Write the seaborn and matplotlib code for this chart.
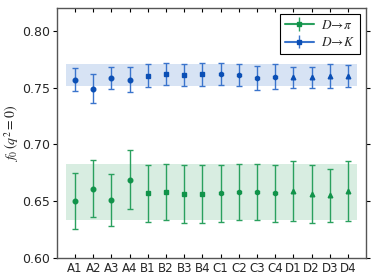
import matplotlib
matplotlib.use("Agg")
import matplotlib.pyplot as plt
import seaborn as sns
import numpy as np
import pandas as pd

ensembles = ["A1", "A2", "A3", "A4", "B1", "B2", "B3", "B4",
             "C1", "C2", "C3", "C4", "D1", "D2", "D3", "D4"]
markers = ["o", "o", "o", "o", "s", "s", "s", "s",
           "h", "h", "h", "h", "^", "^", "^", "^"]

pi_val = [0.650, 0.661, 0.651, 0.669, 0.657, 0.658, 0.656, 0.656,
          0.657, 0.658, 0.658, 0.657, 0.659, 0.656, 0.655, 0.659]
pi_err = [0.025, 0.025, 0.023, 0.026, 0.025, 0.025, 0.0255, 0.0255,
          0.025, 0.025, 0.025, 0.025, 0.0265, 0.0256, 0.0234, 0.0266]
k_val = [0.757, 0.749, 0.7585, 0.757, 0.7605, 0.762, 0.761, 0.7617,
         0.762, 0.761, 0.7584, 0.7596, 0.759, 0.759, 0.760, 0.760]
k_err = [0.010, 0.013, 0.0095, 0.011, 0.010, 0.010, 0.010, 0.010,
         0.010, 0.010, 0.0105, 0.011, 0.0095, 0.009, 0.0105, 0.0098]
pi_band = (0.633, 0.6825)
k_band = (0.751, 0.771)

df = pd.DataFrame({"ens": ensembles, "pi": pi_val, "pi_err": pi_err,
                   "k": k_val, "k_err": k_err, "m": markers})
df["x"] = np.arange(len(df))

sns.set_style("white")
plt.rcParams["mathtext.fontset"] = "stix"
plt.rcParams["font.family"] = ["DejaVu Sans"]

fig, ax = plt.subplots(figsize=(3.74, 2.8), dpi=100)
fig.subplots_adjust(left=0.152, right=0.979, top=0.971, bottom=0.079)

green = "#2aa05e"
green_m = "#11934a"
blue = "#3a74cc"
blue_m = "#0b4fb5"

ax.fill_between([-0.5, 15.5], pi_band[0], pi_band[1], color="#2aa05e", alpha=0.18, lw=0)
ax.fill_between([-0.5, 15.5], k_band[0], k_band[1], color="#3a74cc", alpha=0.2, lw=0)

for _, r in df.iterrows():
    ax.errorbar(r["x"], r["pi"], yerr=r["pi_err"], fmt=r["m"], color=green,
                mfc=green_m, mec=green_m, ms=3.3, capsize=2.2, elinewidth=1.0, capthick=1.0)
    ax.errorbar(r["x"], r["k"], yerr=r["k_err"], fmt=r["m"], color=blue,
                mfc=blue_m, mec=blue_m, ms=3.3, capsize=2.2, elinewidth=1.0, capthick=1.0)

# legend handles
h1 = ax.errorbar([], [], yerr=[], fmt="s-", color=green, mfc=green_m, mec=green_m,
                 ms=2.5, capsize=2.0, elinewidth=1.0)
h2 = ax.errorbar([], [], yerr=[], fmt="s-", color=blue, mfc=blue_m, mec=blue_m,
                 ms=2.5, capsize=2.0, elinewidth=1.0)
leg = ax.legend([h1, h2], [r"$D\!\to\!\pi$", r"$D\!\to\!K$"], loc="upper right",
                fancybox=False, edgecolor="black", fontsize=9.5, handlelength=2.2,
                handletextpad=0.6, borderaxespad=0.45, borderpad=0.35,
                labelspacing=0.35, framealpha=1)
leg.get_frame().set_linewidth(0.8)

ax.set_xlim(-1, 16)
ax.set_ylim(0.60, 0.82)
ax.set_xticks(df["x"])
ax.set_xticklabels(df["ens"], fontsize=8.5)
ax.set_yticks([0.60, 0.65, 0.70, 0.75, 0.80])
ax.set_yticklabels(["0.60", "0.65", "0.70", "0.75", "0.80"], fontsize=9)
ax.tick_params(axis="x", direction="in", top=True, bottom=True, length=3, width=0.8,
               color="black", pad=3)
ax.tick_params(axis="y", direction="out", left=True, right=True, length=3, width=0.8,
               color="black", pad=2)
ax.set_ylabel(r"$f_0\,(q^2=0)$", fontsize=10, labelpad=1)
for s in ax.spines.values():
    s.set_color("#555555")
    s.set_linewidth(1.0)

fig.savefig("out.png", dpi=100)
